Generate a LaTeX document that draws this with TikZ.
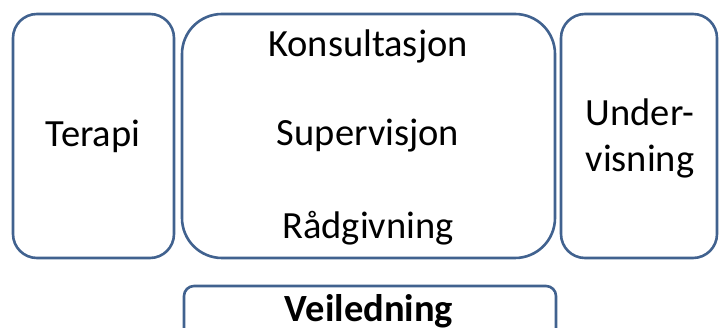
\documentclass[tikz,border=0pt]{standalone}
\usepackage{fontspec}
\setmainfont{Carlito}
\definecolor{frame}{HTML}{41628F}
\begin{document}
\begin{tikzpicture}[x=1pt,y=-1pt,
  panel/.style={draw=frame,line width=2.6pt,fill=white},
  label/.style={font=\fontsize{38.5}{46}\selectfont,text=black,align=center}]
\useasboundingbox (0,0) rectangle (720,328);
\clip (0,0) rectangle (720,328);
% upper row of panels
\draw[panel,rounded corners=24pt] (13,14) rectangle (174,258);
\draw[panel,rounded corners=40pt] (182,14) rectangle (555,258);
\draw[panel,rounded corners=24pt] (561,14) rectangle (717,258);
% lower panel, running past the bottom edge
\draw[panel,rounded corners=10pt] (184,286) rectangle (556,345);
\node[label] (terapi) at (93,136) {Terapi};
\node[label] (kons) at (368,46) {Konsultasjon};
\node[label] (sup) at (368,136) {Supervisjon};
\node[label] (rad) at (368,228) {Rådgivning};
\node[label] (under) at (640,138) {Under-\\visning};
\node[label,font=\fontsize{38.5}{46}\selectfont\bfseries] (veil) at (369,311) {Veiledning};
\end{tikzpicture}
\end{document}
